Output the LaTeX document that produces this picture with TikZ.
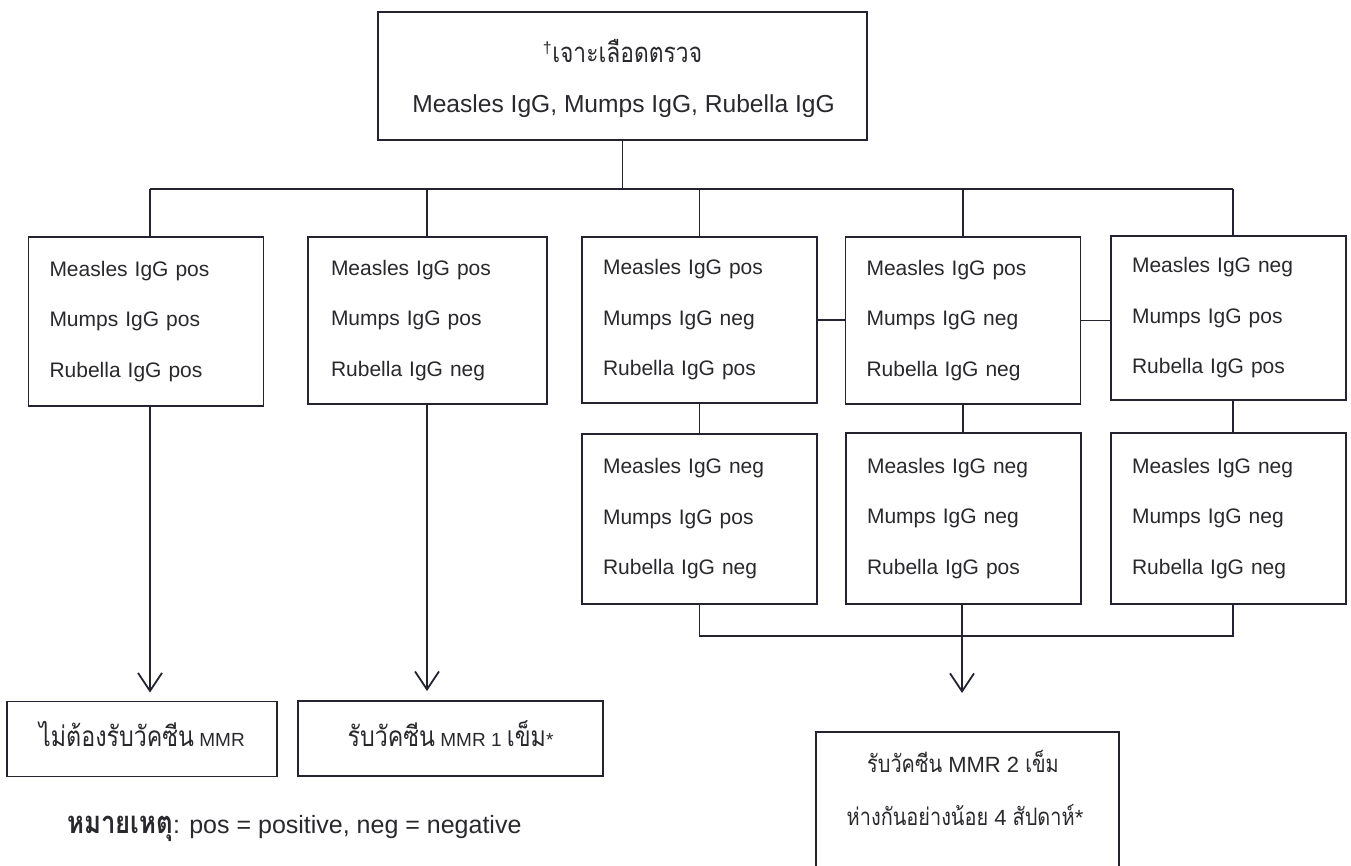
\documentclass[tikz,border=0pt]{standalone}
\usepackage{fontspec}
\setmainfont{Liberation Sans}
\newfontfamily\thaifam[Script=Thai,FakeStretch=0.83]{Loma}
\newcommand{\thx}[2][27.5]{{\thaifam\fontsize{#1}{#1}\selectfont #2}}
\newcommand{\thxb}[1]{{\thaifam\bfseries\fontsize{31}{34}\selectfont #1}}
\usetikzlibrary{arrows.meta}
\definecolor{ln}{RGB}{35,35,50}
\definecolor{tx}{RGB}{40,40,45}
\begin{document}
\begin{tikzpicture}[x=1pt,y=-1pt,
  box/.style={draw=ln, line width=1.8pt, rectangle, inner sep=0pt, text=tx},
  rowbox/.style={box, minimum width=235pt, text width=193pt, inner xsep=21pt, align=left,
    font=\fontsize{21}{50.5}\selectfont},
  resbox/.style={box, font=\fontsize{19}{24}\selectfont, text height=15pt, text depth=0pt},
  conn/.style={draw=ln, line width=1.8pt},
  arr/.style={conn, -{Straight Barb[length=18pt,width=24pt,line width=1.8pt]}},
  lbl/.style={text=tx, inner sep=0pt, anchor=base}
]
\useasboundingbox (0,0) rectangle (1351,866);
\clip (0,0) rectangle (1351,866);

% top box
\node[box, minimum width=489pt, minimum height=128pt] (top) at (622.5,76) {};
\node[lbl, font=\fontsize{24.6}{30}\selectfont] (top1) at (622.5,63)
  {\textsuperscript{\fontsize{16}{16}\selectfont †}\thx{เจาะเลือดตรวจ}};
\node[lbl, font=\fontsize{24.6}{30}\selectfont] (top2) at (623.5,113)
  {Measles IgG, Mumps IgG, Rubella IgG};

% row 1
\node[rowbox, minimum height=169pt] (A) at (146,321.5) {Measles IgG pos\\Mumps IgG pos\\Rubella IgG pos};
\node[rowbox, minimum width=239pt, minimum height=167pt] (B) at (427.5,320.5) {Measles IgG pos\\Mumps IgG pos\\Rubella IgG neg};
\node[rowbox, minimum height=166pt] (C) at (699.5,320) {Measles IgG pos\\Mumps IgG neg\\Rubella IgG pos};
\node[rowbox, minimum height=167pt] (D) at (963,320.5) {Measles IgG pos\\Mumps IgG neg\\Rubella IgG neg};
\node[rowbox, minimum height=164pt] (E) at (1228.5,318) {Measles IgG neg\\Mumps IgG pos\\Rubella IgG pos};

% row 2
\node[rowbox, minimum height=170pt] (F) at (699.5,519) {Measles IgG neg\\Mumps IgG pos\\Rubella IgG neg};
\node[rowbox, minimum height=171pt] (G) at (963.5,518.5) {Measles IgG neg\\Mumps IgG neg\\Rubella IgG pos};
\node[rowbox, minimum height=171pt] (H) at (1228.5,518.5) {Measles IgG neg\\Mumps IgG neg\\Rubella IgG neg};

% result boxes
\node[resbox, minimum width=270pt, minimum height=75pt] (I) at (142,739)
  {\thx[28]{ไม่ต้องรับวัคซีน} MMR};
\node[resbox, minimum width=305pt, minimum height=75pt] (J) at (450.5,738.5)
  {\thx[28]{รับวัคซีน} MMR 1 \thx[28]{เข็ม}*};
\node[box, minimum width=303pt, minimum height=180pt, anchor=north] (K) at (967.5,731) {};
\node[lbl, font=\fontsize{22}{28}\selectfont] (Kt1) at (963,772) {\thx[24]{รับวัคซีน} MMR 2 \thx[24]{เข็ม}};
\node[lbl, font=\fontsize{22}{28}\selectfont] (Kt2) at (965,825) {\thx[24]{ห่างกันอย่างน้อย} 4 \thx[24]{สัปดาห์}*};

% note
\node[lbl, anchor=base west, font=\fontsize{25}{30}\selectfont] (note) at (67,833)
  {\thxb{หมายเหตุ}: pos = positive, neg = negative};

% connector coordinates
\coordinate (xA) at (150,189);
\coordinate (xB) at (427,189);
\coordinate (xC) at (699.5,189);
\coordinate (xD) at (963,189);
\coordinate (xE) at (1233,189);
\coordinate (bF) at (699.5,636);
\coordinate (bG) at (962,636);
\coordinate (bH) at (1233,636);

% top tree
\draw[conn] (top.south) -- (top.south |- xA);
\draw[conn] (xA) -- (xE);
\draw[conn] (xA) -- (xA |- A.north);
\draw[conn] (xB) -- (xB |- B.north);
\draw[conn] (xC) -- (xC |- C.north);
\draw[conn] (xD) -- (xD |- D.north);
\draw[conn] (xE) -- (xE |- E.north);

% side links
\draw[conn] (C.east) -- (C.east -| D.west);
\draw[conn] (D.east) -- (D.east -| E.west);

% row links
\draw[conn] (C.south) -- (F.north);
\draw[conn] (D.south) -- (D.south |- G.north);
\draw[conn] (xE |- E.south) -- (xE |- H.north);

% bottom bus
\draw[conn] (F.south) -- (bF) -- (bH) -- (bH |- H.south);
\draw[conn] (bG |- G.south) -- (bG);

% arrows
\draw[arr, shorten >=8pt] (xA |- A.south) -- (xA |- I.north);
\draw[arr, shorten >=9pt] (xB |- B.south) -- (xB |- J.north);
\draw[arr, shorten >=38pt] (bG) -- (bG |- K.north);
\end{tikzpicture}
\end{document}
